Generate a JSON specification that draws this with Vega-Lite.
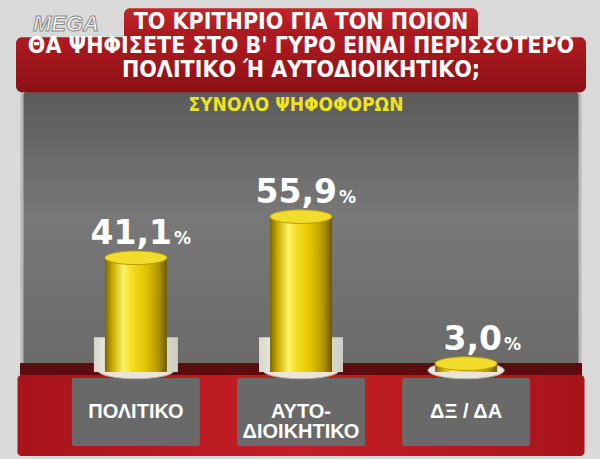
{
  "$schema": "https://vega.github.io/schema/vega-lite/v6.json",
  "width": 558,
  "height": 284,
  "autosize": "none",
  "padding": {"left": 22, "top": 88, "right": 20, "bottom": 87},
  "background": "#d9d9d9",
  "view": {
    "fill": {"gradient": "linear", "x1": 0, "y1": 0, "x2": 0, "y2": 1,
      "stops": [{"offset": 0, "color": "#5a5a5a"}, {"offset": 0.45, "color": "#787878"}, {"offset": 1, "color": "#6a6a6a"}]},
    "stroke": "#b8b8b8",
    "strokeWidth": 3,
    "cornerRadius": 8
  },
  "datasets": {
    "results": [
      {"option": "ΠΟΛΙΤΙΚΟ", "label": "ΠΟΛΙΤΙΚΟ", "value": 41.1, "text": "41,1"},
      {"option": "ΑΥΤΟΔΙΟΙΚΗΤΙΚΟ", "label": "ΑΥΤΟ-\nΔΙΟΙΚΗΤΙΚΟ", "value": 55.9, "text": "55,9"},
      {"option": "ΔΞ / ΔΑ", "label": "ΔΞ / ΔΑ", "value": 3.0, "text": "3,0"}
    ],
    "header": [
      {"logo": "MEGA", "title": "ΤΟ ΚΡΙΤΗΡΙΟ ΓΙΑ ΤΟΝ ΠΟΙΟΝ\nΘΑ ΨΗΦΙΣΕΤΕ ΣΤΟ Β' ΓΥΡΟ ΕΙΝΑΙ ΠΕΡΙΣΣΟΤΕΡΟ\nΠΟΛΙΤΙΚΟ Ή ΑΥΤΟΔΙΟΙΚΗΤΙΚΟ;", "subtitle": "ΣΥΝΟΛΟ ΨΗΦΟΦΟΡΩΝ"}
    ]
  },
  "data": {"name": "results"},
  "encoding": {
    "x": {"field": "option", "type": "nominal", "sort": null,
      "scale": {"domain": ["ΠΟΛΙΤΙΚΟ", "ΑΥΤΟΔΙΟΙΚΗΤΙΚΟ", "ΔΞ / ΔΑ"], "paddingInner": 0.62, "paddingOuter": 0.5},
      "axis": null}
  },
  "layer": [
    {
      "data": {"name": "header"},
      "mark": {"type": "bar", "width": 354, "cornerRadiusTopLeft": 6, "cornerRadiusTopRight": 6,
        "fill": {"gradient": "linear", "x1": 0, "y1": 0, "x2": 0, "y2": 1,
          "stops": [{"offset": 0, "color": "#c4242b"}, {"offset": 1, "color": "#a3161c"}]}},
      "encoding": {
        "x": {"datum": "ΑΥΤΟΔΙΟΙΚΗΤΙΚΟ"},
        "y": {"datum": 130.9, "type": "quantitative", "scale": {"domain": [0, 102.2], "nice": false, "zero": false}, "axis": null},
        "y2": {"datum": 119.0}
      }
    },
    {
      "data": {"name": "header"},
      "mark": {"type": "bar", "width": 570, "cornerRadius": 6,
        "fill": {"gradient": "linear", "x1": 0, "y1": 0, "x2": 0, "y2": 1,
          "stops": [{"offset": 0, "color": "#b01a21"}, {"offset": 1, "color": "#8a1015"}]}},
      "encoding": {
        "x": {"datum": "ΑΥΤΟΔΙΟΙΚΗΤΙΚΟ"},
        "y": {"datum": 120.5, "type": "quantitative"},
        "y2": {"datum": 100.7}
      }
    },
    {
      "data": {"name": "header"},
      "mark": {"type": "text", "font": "Liberation Sans", "fontWeight": "bold", "fontStyle": "italic", "fontSize": 22,
        "fill": "#f5f5f5", "stroke": "#8a8a8a", "strokeWidth": 1, "align": "center", "baseline": "middle", "dx": -70},
      "encoding": {
        "x": {"datum": "ΠΟΛΙΤΙΚΟ"},
        "y": {"datum": 125.2, "type": "quantitative"},
        "text": {"field": "logo"}
      }
    },
    {
      "data": {"name": "header"},
      "mark": {"type": "text", "font": "DejaVu Sans Condensed", "fontWeight": "bold", "fontSize": 23,
        "lineHeight": 24, "lineBreak": "\n", "fill": "white", "align": "center", "baseline": "middle"},
      "encoding": {
        "x": {"datum": "ΑΥΤΟΔΙΟΙΚΗΤΙΚΟ"},
        "y": {"datum": 125.9, "type": "quantitative"},
        "text": {"field": "title"}
      }
    },
    {
      "data": {"name": "header"},
      "mark": {"type": "text", "font": "DejaVu Sans Condensed", "fontWeight": "bold", "fontSize": 19,
        "fill": "#ece41c", "align": "center", "baseline": "middle", "dx": -5},
      "encoding": {
        "x": {"datum": "ΑΥΤΟΔΙΟΙΚΗΤΙΚΟ"},
        "y": {"datum": 96.2, "type": "quantitative"},
        "text": {"field": "subtitle"}
      }
    },
    {
      "data": {"name": "header"},
      "mark": {"type": "bar", "width": 562, "fill": "#5c0b0e"},
      "encoding": {
        "x": {"datum": "ΑΥΤΟΔΙΟΙΚΗΤΙΚΟ"},
        "y": {"datum": 3.2, "type": "quantitative"},
        "y2": {"datum": -1.1}
      }
    },
    {
      "data": {"name": "header"},
      "mark": {"type": "bar", "width": 567, "cornerRadius": 4,
        "fill": {"gradient": "linear", "x1": 0, "y1": 0, "x2": 1, "y2": 0,
          "stops": [{"offset": 0, "color": "#a8141a"}, {"offset": 0.5, "color": "#c41e24"}, {"offset": 1, "color": "#a8141a"}]}},
      "encoding": {
        "x": {"datum": "ΑΥΤΟΔΙΟΙΚΗΤΙΚΟ"},
        "y": {"datum": -1.1, "type": "quantitative"},
        "y2": {"datum": -30.2}
      }
    },
    {
      "mark": {"type": "bar", "width": 128, "fill": "#696969", "cornerRadius": 2},
      "encoding": {
        "y": {"datum": -2.2, "type": "quantitative"},
        "y2": {"datum": -26.6}
      }
    },
    {
      "mark": {"type": "text", "font": "Liberation Sans", "fontWeight": "bold", "fontSize": 20, "lineHeight": 20,
        "lineBreak": "\n", "fill": "white", "align": "center", "baseline": "middle"},
      "encoding": {
        "y": {"datum": -14.4, "type": "quantitative"},
        "text": {"field": "label"}
      }
    },
    {
      "mark": {"type": "point", "shape": "M-1,0A1,0.22,0,1,0,1,0A1,0.22,0,1,0,-1,0Z", "size": 5800,
        "filled": true, "fill": "#e8e6dc", "stroke": "#b9b6a8", "strokeWidth": 1, "opacity": 1},
      "encoding": {
        "y": {"datum": 0.6, "type": "quantitative"}
      }
    },
    {
      "transform": [{"filter": "datum.value > 10"}],
      "mark": {"type": "bar", "width": 84,
        "fill": {"gradient": "linear", "x1": 0, "y1": 0, "x2": 1, "y2": 0,
          "stops": [{"offset": 0, "color": "#d9d8cf"}, {"offset": 0.3, "color": "#f7f6ee"}, {"offset": 1, "color": "#cfcec4"}]}},
      "encoding": {
        "y": {"datum": 12.5, "type": "quantitative"},
        "y2": {"datum": 0}
      }
    },
    {
      "mark": {"type": "bar", "width": 62,
        "fill": {"gradient": "linear", "x1": 0, "y1": 0, "x2": 1, "y2": 0,
          "stops": [{"offset": 0, "color": "#7a6600"}, {"offset": 0.12, "color": "#c8aa00"}, {"offset": 0.3, "color": "#fff36a"},
            {"offset": 0.42, "color": "#f5df22"}, {"offset": 0.66, "color": "#e0c300"}, {"offset": 0.86, "color": "#b39600"}, {"offset": 1, "color": "#6b5800"}]}},
      "encoding": {
        "y": {"field": "value", "type": "quantitative"},
        "y2": {"datum": 0}
      }
    },
    {
      "mark": {"type": "point", "shape": "M-1,0A1,0.22,0,1,0,1,0A1,0.22,0,1,0,-1,0Z", "size": 3844,
        "filled": true, "fill": "#f2dc2c", "stroke": "#b89c00", "strokeWidth": 1, "opacity": 1},
      "encoding": {
        "y": {"field": "value", "type": "quantitative"}
      }
    },
    {
      "mark": {"type": "text", "font": "DejaVu Sans", "fontWeight": "bold", "fontSize": 33, "fill": "white",
        "align": "right", "baseline": "alphabetic", "dx": 36, "dy": -14},
      "encoding": {
        "y": {"field": "value", "type": "quantitative"},
        "text": {"field": "text"}
      }
    },
    {
      "mark": {"type": "text", "font": "DejaVu Sans", "fontWeight": "bold", "fontSize": 17, "fill": "white",
        "align": "left", "baseline": "alphabetic", "dx": 38, "dy": -14},
      "encoding": {
        "y": {"field": "value", "type": "quantitative"},
        "text": {"value": "%"}
      }
    }
  ]
}
